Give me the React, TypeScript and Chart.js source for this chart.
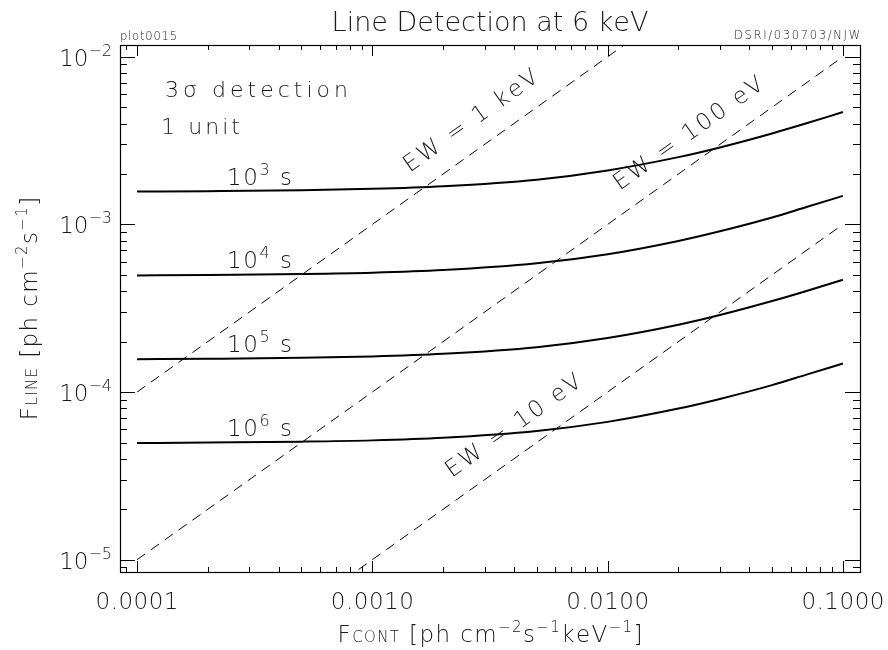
import React, { useEffect, useRef } from 'react';
import { Chart, registerables } from 'chart.js';

Chart.register(...registerables);

// ---- data ----
const contFlux = [0.0001, 0.0002, 0.0005, 0.001, 0.002, 0.005, 0.01, 0.02, 0.03, 0.05, 0.07, 0.1];
const line1e3s = [1.57e-3, 1.58e-3, 1.6e-3, 1.63e-3, 1.69e-3, 1.85e-3, 2.1e-3, 2.52e-3, 2.88e-3, 3.49e-3, 4.01e-3, 4.68e-3];
const line1e4s = [4.96e-4, 5.0e-4, 5.06e-4, 5.15e-4, 5.34e-4, 5.86e-4, 6.64e-4, 7.97e-4, 9.1e-4, 1.1e-3, 1.27e-3, 1.48e-3];
const line1e5s = [1.57e-4, 1.58e-4, 1.6e-4, 1.63e-4, 1.69e-4, 1.85e-4, 2.1e-4, 2.52e-4, 2.88e-4, 3.49e-4, 4.01e-4, 4.68e-4];
const line1e6s = [4.96e-5, 5.0e-5, 5.06e-5, 5.15e-5, 5.34e-5, 5.86e-5, 6.64e-5, 7.97e-5, 9.1e-5, 1.1e-4, 1.27e-4, 1.48e-4];
const exposureExponents = ['3', '4', '5', '6'];

const ewContFlux = [0.0001, 0.1];
const ew1keV = [1e-4, 1e-1];
const ew100eV = [1e-5, 1e-2];
const ew10eV = [1e-6, 1e-3];
const ewLabels = ['EW = 1 keV', 'EW = 100 eV', 'EW = 10 eV'];
const ewLabelAnchorX = [0.001443, 0.01127, 0.002178];
const ewValues = [1, 0.1, 0.01];

const xTickValues = [0.0001, 0.001, 0.01, 0.1];
const xTickLabels = ['0.0001', '0.0010', '0.0100', '0.1000'];
const yTickValues = [1e-2, 1e-3, 1e-4, 1e-5];
const yTickExponents = ['−2', '−3', '−4', '−5'];

const X_MIN = 8.466e-5;
const X_MAX = 0.1182;
const Y_MIN = 8.445e-6;
const Y_MAX = 0.01176;

const FONT_FAMILY = "'DejaVu Sans', sans-serif";
const WEIGHT = '300';
const TEXT_COLOR = '#1a1a1a';

type Part = { t: string; size: number; dy?: number };

function font(size: number) {
  return `${WEIGHT} ${size}px ${FONT_FAMILY}`;
}

function countChars(parts: Part[]) {
  return parts.reduce((n, p) => n + Array.from(p.t).length, 0);
}

function richWidth(ctx: CanvasRenderingContext2D, parts: Part[], ls: number) {
  let w = 0;
  for (const p of parts) {
    ctx.font = font(p.size);
    for (const ch of Array.from(p.t)) w += ctx.measureText(ch).width + ls;
  }
  return w - ls;
}

function spacingFor(ctx: CanvasRenderingContext2D, parts: Part[], target: number) {
  const nat = richWidth(ctx, parts, 0);
  const n = countChars(parts) - 1;
  return n > 0 ? (target - nat) / n : 0;
}

function drawRich(
  ctx: CanvasRenderingContext2D,
  parts: Part[],
  x: number,
  y: number,
  align: 'left' | 'center' | 'right',
  ls = 0
) {
  const w = richWidth(ctx, parts, ls);
  let cx = align === 'left' ? x : align === 'center' ? x - w / 2 : x - w;
  ctx.textAlign = 'left';
  ctx.textBaseline = 'alphabetic';
  for (const p of parts) {
    ctx.font = font(p.size);
    for (const ch of Array.from(p.t)) {
      ctx.fillText(ch, cx, y + (p.dy || 0));
      cx += ctx.measureText(ch).width + ls;
    }
  }
}

function drawFit(
  ctx: CanvasRenderingContext2D,
  parts: Part[],
  x: number,
  y: number,
  align: 'left' | 'center' | 'right',
  target: number
) {
  drawRich(ctx, parts, x, y, align, spacingFor(ctx, parts, target));
}

const decorPlugin = {
  id: 'decor',
  afterDatasetsDraw(chart: any) {
    const ctx: CanvasRenderingContext2D = chart.ctx;
    const xs = chart.scales.x;
    const ys = chart.scales.y;
    const a = chart.chartArea;
    ctx.save();
    ctx.fillStyle = TEXT_COLOR;
    ctx.strokeStyle = '#000';

    // frame
    ctx.lineWidth = 1.2;
    ctx.strokeRect(a.left + 0.5, a.top + 0.5, a.right - a.left, a.bottom - a.top);

    // x ticks (inward, top & bottom)
    ctx.lineWidth = 1;
    for (let d = -5; d <= 0; d++) {
      for (let m = 1; m <= 9; m++) {
        const v = m * Math.pow(10, d);
        if (v < X_MIN || v > X_MAX) continue;
        const px = Math.round(xs.getPixelForValue(v)) + 0.5;
        const len = m === 1 ? 11 : 5;
        ctx.beginPath();
        ctx.moveTo(px, a.bottom);
        ctx.lineTo(px, a.bottom - len);
        ctx.moveTo(px, a.top);
        ctx.lineTo(px, a.top + len);
        ctx.stroke();
      }
    }
    // y ticks (inward, left & right)
    for (let d = -7; d <= -1; d++) {
      for (let m = 1; m <= 9; m++) {
        const v = m * Math.pow(10, d);
        if (v < Y_MIN || v > Y_MAX) continue;
        const py = Math.round(ys.getPixelForValue(v)) + 0.5;
        const len = m === 1 ? 15 : 7;
        ctx.beginPath();
        ctx.moveTo(a.left, py);
        ctx.lineTo(a.left + len, py);
        ctx.moveTo(a.right, py);
        ctx.lineTo(a.right - len, py);
        ctx.stroke();
      }
    }

    // x tick labels
    xTickValues.forEach((v, i) => {
      drawRich(ctx, [{ t: xTickLabels[i], size: 23 }], xs.getPixelForValue(v), 609, 'center', 0.5);
    });
    // y tick labels
    yTickValues.forEach((v, i) => {
      const py = ys.getPixelForValue(v);
      drawRich(ctx, [{ t: '10', size: 23 }, { t: yTickExponents[i], size: 16, dy: -10 }], a.left - 8, py + 9, 'right');
    });

    // title & corner notes
    drawRich(ctx, [{ t: 'Line Detection at 6 keV', size: 27 }], (a.left + a.right) / 2, 31, 'center');
    drawFit(ctx, [{ t: 'plot0015', size: 11.5 }], a.left, 40, 'left', 57);
    drawFit(ctx, [{ t: 'DSRI/030703/NJW', size: 11.5 }], a.right, 39, 'right', 126);

    // axis titles
    const xTitle: Part[] = [
      { t: 'F', size: 23 },
      { t: 'CONT', size: 15 },
      { t: ' [ph cm', size: 23 },
      { t: '−2', size: 15, dy: -10 },
      { t: 's', size: 23 },
      { t: '−1', size: 15, dy: -10 },
      { t: 'keV', size: 23 },
      { t: '−1', size: 15, dy: -10 },
      { t: ']', size: 23 },
    ];
    const titleLs = spacingFor(ctx, xTitle, 305);
    drawRich(ctx, xTitle, (a.left + a.right) / 2, 642, 'center', titleLs);
    ctx.save();
    ctx.translate(37, (a.top + a.bottom) / 2);
    ctx.rotate(-Math.PI / 2);
    drawRich(
      ctx,
      [
        { t: 'F', size: 23 },
        { t: 'LINE', size: 15 },
        { t: ' [ph cm', size: 23 },
        { t: '−2', size: 15, dy: -10 },
        { t: 's', size: 23 },
        { t: '−1', size: 15, dy: -10 },
        { t: ']', size: 23 },
      ],
      0,
      0,
      'center',
      titleLs
    );
    ctx.restore();

    // in-plot notes
    drawFit(ctx, [{ t: '3σ detection', size: 22 }], 165, 97, 'left', 183);
    drawFit(ctx, [{ t: '1 unit', size: 22 }], 161, 134, 'left', 79);

    // exposure labels
    const curves = [line1e3s, line1e4s, line1e5s, line1e6s];
    curves.forEach((c, i) => {
      const py = ys.getPixelForValue(c[0]);
      drawFit(
        ctx,
        [{ t: '10', size: 23 }, { t: exposureExponents[i], size: 16, dy: -10 }, { t: ' s', size: 23 }],
        227,
        py - 7,
        'left',
        65
      );
    });

    // EW labels along dashed lines
    const ang = Math.atan2(
      ys.getPixelForValue(1e-2) - ys.getPixelForValue(1e-3),
      xs.getPixelForValue(1e-2) - xs.getPixelForValue(1e-3)
    );
    ewLabels.forEach((lab, i) => {
      const xv = ewLabelAnchorX[i];
      const px = xs.getPixelForValue(xv);
      const py = ys.getPixelForValue(xv * ewValues[i]) - 25;
      ctx.save();
      ctx.translate(px, py);
      ctx.rotate(ang);
      drawRich(ctx, [{ t: lab, size: 23 }], 0, 0, 'left', 2.6);
      ctx.restore();
    });

    ctx.restore();
  },
};

export default function App() {
  const ref = useRef<HTMLCanvasElement | null>(null);
  useEffect(() => {
    if (!ref.current) return;
    const solid = (ys: number[]) => ({
      data: contFlux.map((x, i) => ({ x, y: ys[i] })),
      borderColor: '#000',
      borderWidth: 2,
      pointRadius: 0,
      fill: false,
      cubicInterpolationMode: 'monotone' as const,
    });
    const dashed = (ys: number[]) => ({
      data: ewContFlux.map((x, i) => ({ x, y: ys[i] })),
      borderColor: '#000',
      borderWidth: 1,
      borderDash: [10, 7],
      pointRadius: 0,
      fill: false,
    });
    const chart = new Chart(ref.current, {
      type: 'line',
      data: {
        datasets: [
          solid(line1e3s),
          solid(line1e4s),
          solid(line1e5s),
          solid(line1e6s),
          dashed(ew1keV),
          dashed(ew100eV),
          dashed(ew10eV),
        ] as any,
      },
      options: {
        responsive: false,
        animation: false,
        parsing: false,
        layout: { padding: { left: 120, top: 45, right: 28, bottom: 78 } },
        plugins: { legend: { display: false }, tooltip: { enabled: false }, title: { display: false } },
        scales: {
          x: { type: 'logarithmic', min: X_MIN, max: X_MAX, display: false },
          y: { type: 'logarithmic', min: Y_MIN, max: Y_MAX, display: false },
        },
      },
      plugins: [decorPlugin],
    });
    return () => chart.destroy();
  }, []);
  return (
    <div style={{ position: 'fixed', left: 0, top: 0, width: 888, height: 650, background: '#fff' }}>
      <canvas ref={ref} width={888} height={650} style={{ display: 'block' }} />
    </div>
  );
}
